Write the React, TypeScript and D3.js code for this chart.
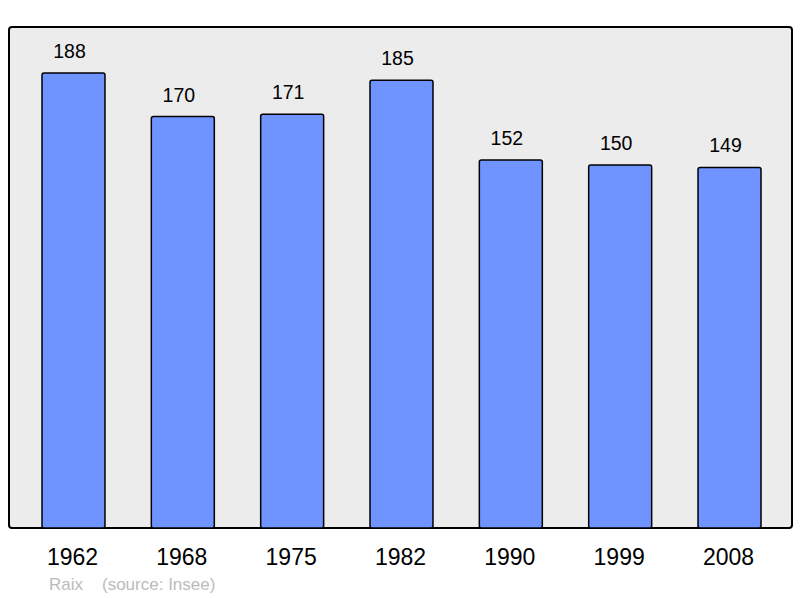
import React from 'react';
import * as d3 from 'd3';

const years = ['1962', '1968', '1975', '1982', '1990', '1999', '2008'];
const population = [188, 170, 171, 185, 152, 150, 149];

const width = 800;
const height = 598;
const panel = { left: 9, top: 27, right: 792, bottom: 528 };

const App: React.FC = () => {
  const x = d3
    .scaleBand<string>()
    .domain(years)
    .range([42, 761])
    .paddingInner(0.424)
    .paddingOuter(0);

  const y = d3.scaleLinear().domain([0, 207]).range([panel.bottom, panel.top]);

  return (
    <svg
      width={width}
      height={height}
      style={{ position: 'absolute', top: 0, left: 0, fontFamily: 'Liberation Sans, Arial, sans-serif' }}
    >
      <rect x={0} y={0} width={width} height={height} fill="#ffffff" />
      <rect
        x={panel.left}
        y={panel.top}
        width={panel.right - panel.left}
        height={panel.bottom - panel.top}
        rx={3}
        fill="#ececec"
        stroke="#000"
        strokeWidth={2}
      />
      {years.map((yr, i) => (
        <g key={yr}>
          <rect
            x={x(yr)}
            y={y(population[i])}
            width={x.bandwidth()}
            height={panel.bottom - y(population[i])}
            rx={2}
            fill="#7094ff"
            stroke="#000"
            strokeWidth={1.5}
          />
          {/* value labels sit a little left of the bar centre */}
          <text
            x={(x(yr) ?? 0) + x.bandwidth() / 2 - 4}
            y={y(population[i]) - 15}
            textAnchor="middle"
            fontSize={19.5}
            fill="#000"
          >
            {population[i]}
          </text>
          <text
            x={(x(yr) ?? 0) + x.bandwidth() / 2 - 1}
            y={565}
            textAnchor="middle"
            fontSize={23}
            fill="#000"
          >
            {yr}
          </text>
        </g>
      ))}
      <text x={49} y={590} fontSize={17} fill="#bbbbbb">
        Raix
      </text>
      <text x={102} y={590} fontSize={17} fill="#bbbbbb">
        (source: Insee)
      </text>
    </svg>
  );
};

export default App;
